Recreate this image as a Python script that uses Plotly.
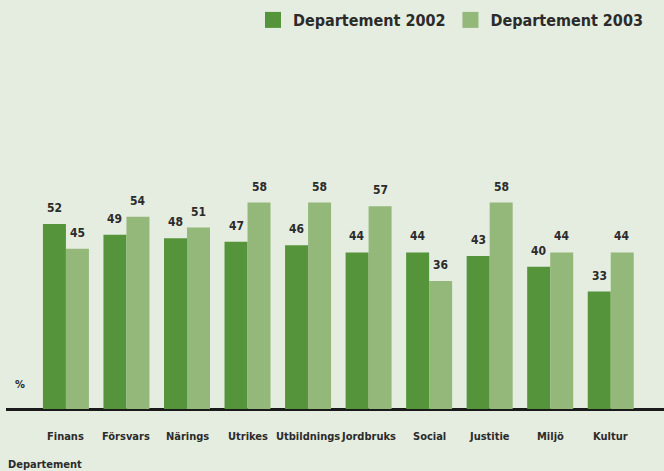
import plotly.graph_objects as go

categories = ["Finans", "Försvars", "Närings", "Utrikes", "Utbildnings",
              "Jordbruks", "Social", "Justitie", "Miljö", "Kultur"]
values_2002 = [52, 49, 48, 47, 46, 44, 44, 43, 40, 33]
values_2003 = [45, 54, 51, 58, 58, 57, 36, 58, 44, 44]
series_names = ["Departement 2002", "Departement 2003"]

DARK = "#55943a"
LIGHT = "#93b87a"
BG = "#e5ede0"
TXT = "#2b2b2b"
FONT = "DejaVu Sans Condensed"

fig = go.Figure()
fig.add_trace(go.Bar(x=categories, y=values_2002, name=series_names[0],
                     marker=dict(color=DARK, line=dict(width=0)), showlegend=False))
fig.add_trace(go.Bar(x=categories, y=values_2003, name=series_names[1],
                     marker=dict(color=LIGHT, line=dict(width=0)), showlegend=False))
# legend proxies
for name, col in zip(series_names, [DARK, LIGHT]):
    fig.add_trace(go.Scatter(x=[None], y=[None], mode="markers", name=name,
                             marker=dict(symbol="square", size=16, color=col)))

annotations = []
for i, c in enumerate(categories):
    annotations.append(dict(x=c, y=values_2002[i], xref="x", yref="y", text=str(values_2002[i]),
                            showarrow=False, xshift=-11.5, yshift=16,
                            font=dict(family=FONT, size=12, color=TXT, weight="bold")))
    annotations.append(dict(x=c, y=values_2003[i], xref="x", yref="y", text=str(values_2003[i]),
                            showarrow=False, xshift=11.5, yshift=16,
                            font=dict(family=FONT, size=12, color=TXT, weight="bold")))
    annotations.append(dict(x=c, y=0, xref="x", yref="y", text=c, showarrow=False,
                            yshift=-27,
                            font=dict(family=FONT, size=11, color=TXT, weight="bold")))

annotations.append(dict(x=0.021, y=25 / 369, xref="paper", yref="paper", text="%",
                        showarrow=False, xanchor="center", yanchor="middle",
                        font=dict(family=FONT, size=11, color=TXT, weight="bold")))
annotations.append(dict(x=0, y=0, xref="paper", yref="paper", text="Departement",
                        showarrow=False, xanchor="left", yanchor="middle", yshift=-55,
                        font=dict(family=FONT, size=11, color=TXT, weight="bold")))

fig.update_layout(
    width=664, height=471,
    margin=dict(l=6, r=0, t=40, b=62),
    paper_bgcolor=BG, plot_bgcolor=BG,
    barmode="group", bargap=0.24, bargroupgap=0,
    annotations=annotations,
    legend=dict(orientation="h", xref="container", yref="container",
                x=648 / 664, xanchor="right", y=1 - 20 / 471, yanchor="middle",
                font=dict(family=FONT, size=16, color=TXT, weight="bold"),
                bgcolor="rgba(0,0,0,0)", itemclick=False),
    xaxis=dict(range=[-0.99, 9.88], showticklabels=False, showgrid=False, zeroline=False,
               showline=False, ticks=""),
    yaxis=dict(range=[0, 103.7], showticklabels=False, showgrid=False, zeroline=True,
               zerolinecolor="#1a1a1a", zerolinewidth=3, showline=False, ticks=""),
)

fig.write_html("out.html", config={"displayModeBar": False},
               post_script="document.body.style.margin='0';")
